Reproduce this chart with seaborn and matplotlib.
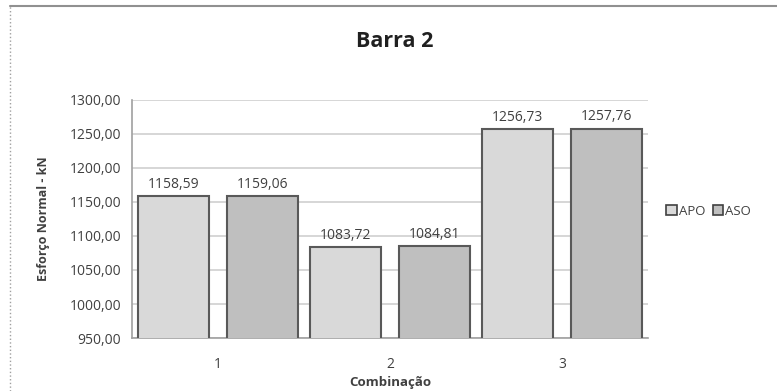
import numpy as np
import pandas as pd
import matplotlib
matplotlib.use('Agg')
import matplotlib.pyplot as plt
import seaborn as sns
from matplotlib.lines import Line2D
from matplotlib.patches import Patch

# dados
combinacoes = ['1', '2', '3']
apo = [1158.59, 1083.72, 1256.73]
aso = [1159.06, 1084.81, 1257.76]
series = ['APO', 'ASO']
y_ticks = [950, 1000, 1050, 1100, 1150, 1200, 1250, 1300]

df = pd.DataFrame({
    'Combinação': combinacoes * 2,
    'valor': apo + aso,
    'serie': ['APO'] * 3 + ['ASO'] * 3,
})

sns.set_style('white')
plt.rcParams['font.family'] = ['Open Sans', 'DejaVu Sans']

cores = {'APO': '#d9d9d9', 'ASO': '#bfbfbf'}
txt = '#404040'

fig = plt.figure(figsize=(7.77, 3.91), dpi=100)
ax = fig.add_axes([0.170, 0.1355, 0.664, 0.609])

sns.barplot(data=df, x='Combinação', y='valor', hue='serie', palette=cores,
            width=1.04, gap=0.21, edgecolor='#595959', linewidth=1.5,
            legend=False, ax=ax, zorder=3)

ax.set_ylim(950, 1300)
ax.set_yticks(y_ticks)
ax.set_yticklabels([f'{v:.2f}'.replace('.', ',') for v in y_ticks], fontsize=10, color=txt)
ax.set_xlim(-0.5, 2.5)
ax.tick_params(axis='x', labelsize=10, colors=txt, length=0, pad=14)
ax.tick_params(axis='y', length=4, color='#a0a0a0', direction='out', pad=4)
ax.yaxis.grid(True, color='#d0d0d0', linewidth=1.2, zorder=0)
ax.set_axisbelow(True)
for s in ['top', 'right']:
    ax.spines[s].set_visible(False)
for s in ['left', 'bottom']:
    ax.spines[s].set_color('#a0a0a0')
    ax.spines[s].set_linewidth(1.2)

# rotulos com os valores
for cont in ax.containers:
    ax.bar_label(cont, labels=[f'{v:.2f}'.replace('.', ',') for v in cont.datavalues],
                 padding=3, fontsize=10, color=txt)

ax.set_ylabel('Esforço Normal - kN', fontsize=9, fontweight='bold', color=txt, labelpad=14)
ax.set_xlabel('Combinação', fontsize=9.5, fontweight='bold', color=txt)
ax.xaxis.set_label_coords(0.5, -0.16)
fig.text(0.508, 0.893, 'Barra 2', ha='center', va='center', fontsize=15.5, fontweight='bold', color='#202020')

handles = [Patch(facecolor=cores[s], edgecolor='#404040', linewidth=1.2) for s in series]
fig.legend(handles, series, loc='center left', bbox_to_anchor=(0.842, 0.46), ncol=2,
           frameon=False, fontsize=9.5, handlelength=0.8, handleheight=0.8,
           handletextpad=0.15, columnspacing=0.6, labelcolor=txt)

# moldura do grafico
fig.add_artist(Line2D([0.013, 1.0], [0.985, 0.985], color='#909090', linewidth=1.5, transform=fig.transFigure))
fig.add_artist(Line2D([0.013, 0.013], [0.0, 0.985], color='#a0a0a0', linewidth=1.0, linestyle=':', transform=fig.transFigure))

fig.savefig('out.png', dpi=100)
